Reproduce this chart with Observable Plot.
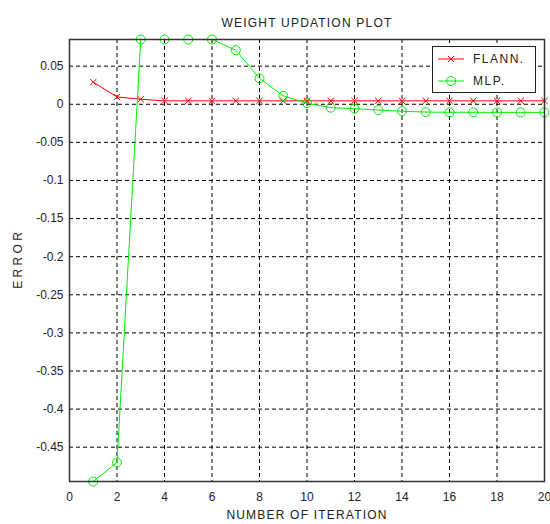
<!DOCTYPE html>
<html>
<head>
<meta charset="utf-8">
<script src="https://cdn.jsdelivr.net/npm/d3@7"></script>
<script src="https://cdn.jsdelivr.net/npm/@observablehq/plot@0.6"></script>
<style>
  body { margin: 0; background: #fff; }
  #wrap { position: relative; width: 550px; height: 524px; font-family: "Liberation Sans", Arial, sans-serif; }
  #legend { position: absolute; left: 432px; top: 46px; width: 104px; height: 47px; border: 1.5px solid #222; background: #fff; box-sizing: border-box; font-size: 12px; color: #222; }
  .row { position: absolute; left: 5px; height: 14px; display: flex; align-items: center; }
  .row span { margin-left: 9px; letter-spacing: 1.5px; }
</style>
</head>
<body>
<div id="wrap"></div>
<script>
const titleText = "WEIGHT UPDATION PLOT";
const xLabel = "NUMBER OF ITERATION";
const yLabel = "E R R O R";
const iterations = [1,2,3,4,5,6,7,8,9,10,11,12,13,14,15,16,17,18,19,20];
const flann = [0.029,0.0096,0.0066,0.0045,0.0045,0.0045,0.0045,0.0045,0.0045,0.0045,0.0045,0.0045,0.0045,0.0045,0.0045,0.0045,0.0045,0.0045,0.0045,0.0045];
const mlp = [-0.495,-0.47,0.085,0.085,0.085,0.085,0.071,0.034,0.011,0.0015,-0.0045,-0.0058,-0.0075,-0.0092,-0.0102,-0.0105,-0.0105,-0.0106,-0.0106,-0.0106];
const seriesNames = ["FLANN.", "MLP."];
const xTicks = [0,2,4,6,8,10,12,14,16,18,20];
const yTicks = [0.05,0,-0.05,-0.1,-0.15,-0.2,-0.25,-0.3,-0.35,-0.4,-0.45];
const yTickLabels = ["0.05","0","-0.05","-0.1","-0.15","-0.2","-0.25","-0.3","-0.35","-0.4","-0.45"];

const flannData = iterations.map((x, i) => ({x, y: flann[i]}));
const mlpData = iterations.map((x, i) => ({x, y: mlp[i]}));

const chart = Plot.plot({
  width: 550,
  height: 524,
  marginLeft: 69,
  marginRight: 6,
  marginTop: 39,
  marginBottom: 43,
  style: {fontFamily: "'Liberation Sans', Arial, sans-serif", fontSize: "11px", color: "#222", background: "#fff"},
  x: {domain: [0, 20]},
  y: {domain: [-0.495, 0.085]},
  marks: [
    Plot.gridX(xTicks, {stroke: "#000", strokeOpacity: 1, strokeDasharray: "4,3", strokeWidth: 1}),
    Plot.gridY(yTicks, {stroke: "#000", strokeOpacity: 1, strokeDasharray: "4,3", strokeWidth: 1}),
    Plot.axisX(xTicks, {tickSize: 0, tickPadding: 11, label: null, tickFormat: d => String(d), fontSize: 12}),
    Plot.axisY(yTicks, {tickSize: 0, tickPadding: 6, label: null, tickFormat: d => yTickLabels[yTicks.indexOf(d)], fontSize: 12}),
    Plot.line(flannData, {x: "x", y: "y", stroke: "#ff0000", strokeWidth: 1}),
    Plot.dot(flannData, {x: "x", y: "y", symbol: "times", r: 3, stroke: "#ff0000", strokeWidth: 1}),
    Plot.line(mlpData, {x: "x", y: "y", stroke: "#00ee00", strokeWidth: 1}),
    Plot.dot(mlpData, {x: "x", y: "y", symbol: "circle", r: 4.5, stroke: "#00ee00", fill: "none", strokeWidth: 1}),
    Plot.frame({stroke: "#333", strokeWidth: 1.5}),
    Plot.text([titleText], {frameAnchor: "top", textAnchor: "middle", dy: -21, fontSize: 12, fill: "#222"}),
    Plot.text([xLabel], {frameAnchor: "bottom", textAnchor: "middle", dy: 37, fontSize: 12, fill: "#222"}),
    Plot.text([yLabel], {frameAnchor: "left", textAnchor: "middle", dx: -51, rotate: -90, fontSize: 12, fill: "#222"})
  ]
});

d3.select(chart).selectAll("text")
  .filter(function() { return this.textContent === titleText || this.textContent === xLabel; })
  .style("letter-spacing", "1.2px");

const wrap = document.getElementById("wrap");
wrap.appendChild(chart);

const legend = document.createElement("div");
legend.id = "legend";
const colors = ["#ff0000", "#00ee00"];
seriesNames.forEach((name, i) => {
  const row = document.createElement("div");
  row.className = "row";
  row.style.top = (5 + i * 22) + "px";
  const sym = i === 0
    ? `<path d="M10,4 L16,10 M16,4 L10,10" stroke="${colors[i]}" fill="none"/>`
    : `<circle cx="13" cy="7" r="4.5" stroke="${colors[i]}" fill="none"/>`;
  row.innerHTML = `<svg width="26" height="14"><line x1="0" y1="7" x2="26" y2="7" stroke="${colors[i]}"/>${sym}</svg><span>${name}</span>`;
  legend.appendChild(row);
});
wrap.appendChild(legend);
</script>
</body>
</html>
